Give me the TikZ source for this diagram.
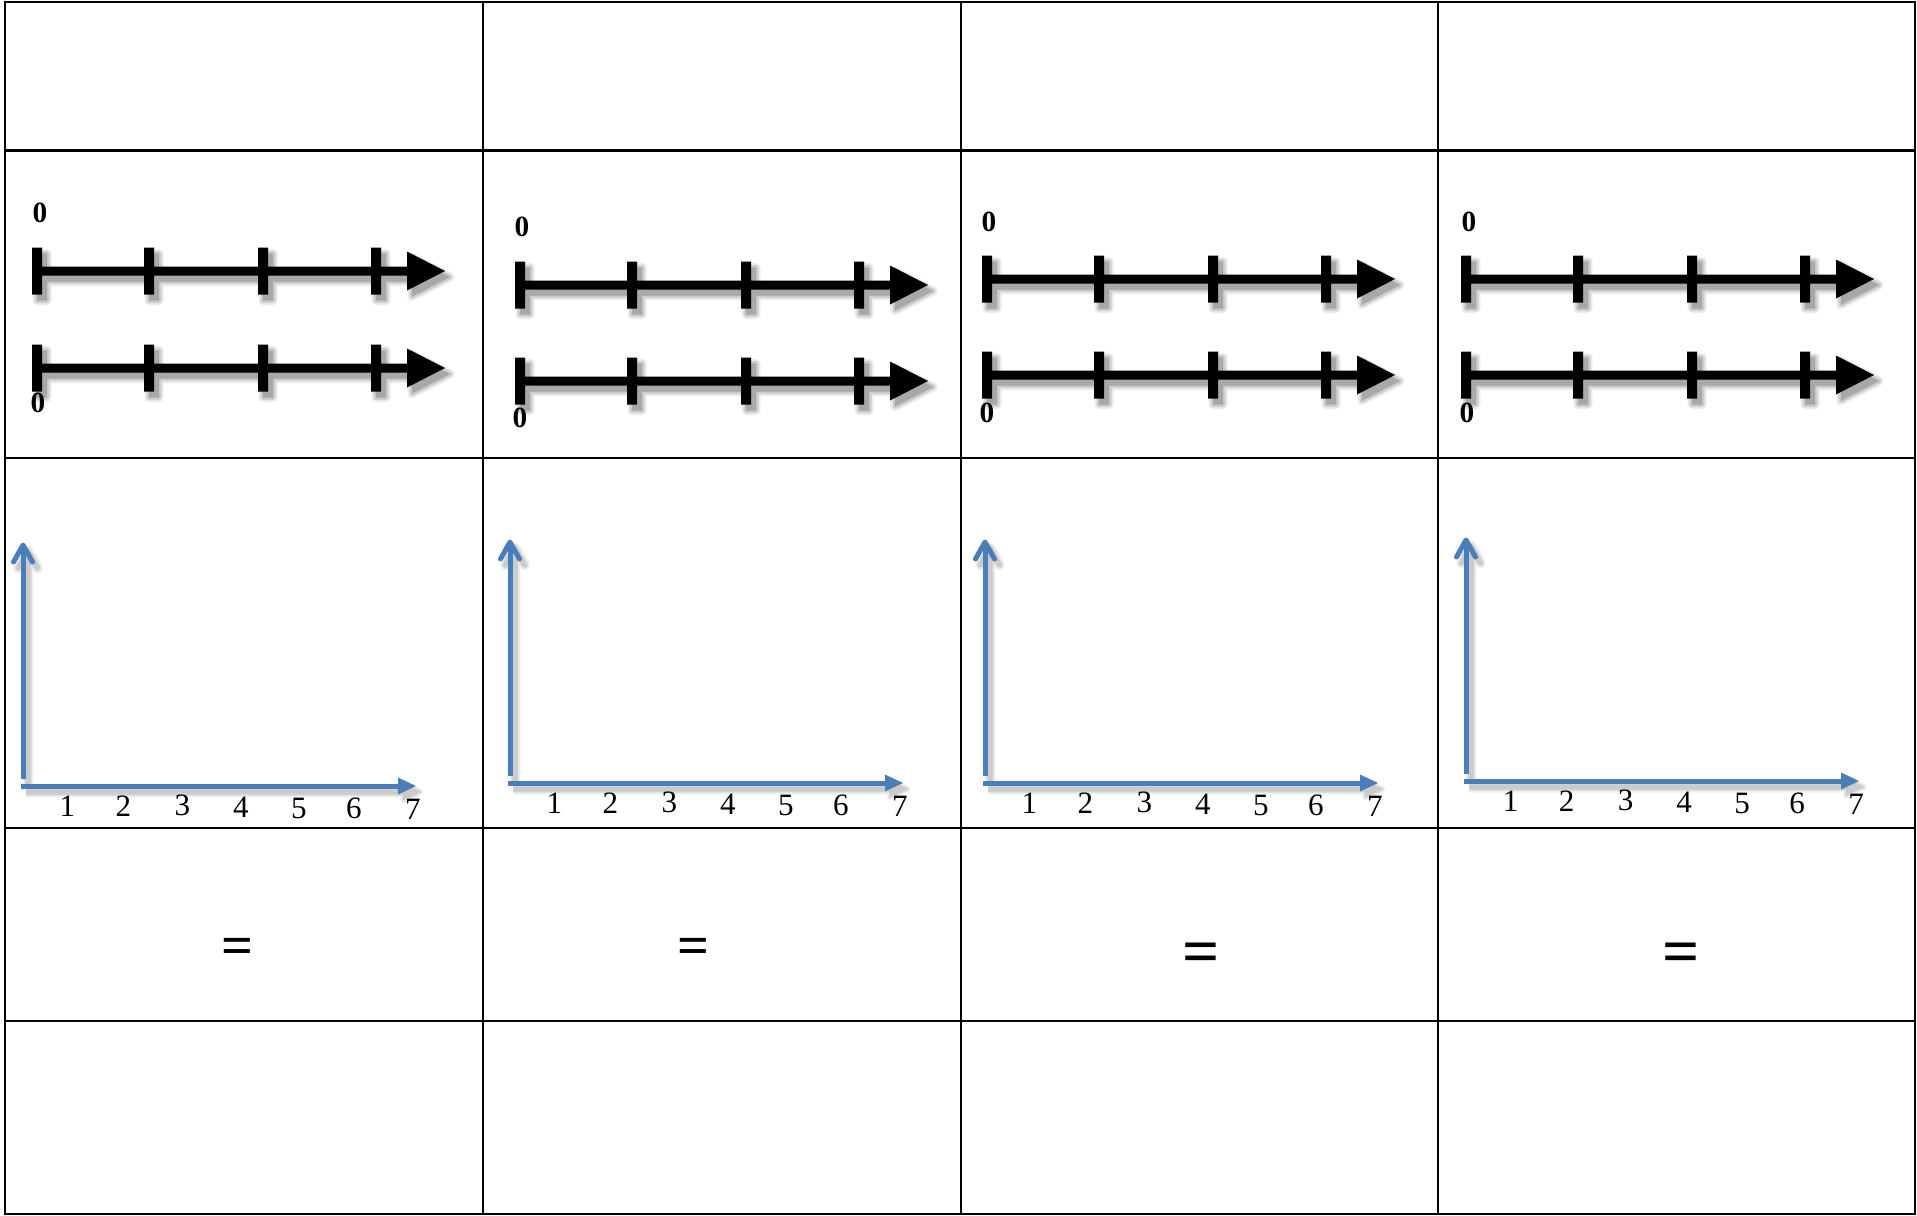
\documentclass[tikz,border=0pt]{standalone}
\usepackage{fontspec}
\setmainfont{Liberation Serif}
\definecolor{axisblue}{RGB}{74,126,187}

% one unit = one pixel of a 1917 x 1215 sheet, y pointing down
\tikzset{
  gridline/.style={line width=1.9pt, black},
  zerolabel/.style={inner sep=0pt, font=\fontsize{22}{24}\selectfont\bfseries},
  ticklabel/.style={inner sep=0pt, font=\fontsize{23.3}{26}\selectfont},
  eqsmall/.style={inner sep=0pt, font=\fontsize{42}{46}\selectfont\bfseries},
  eqlarge/.style={inner sep=0pt, font=\fontsize{49}{53}\selectfont\bfseries},
}

% body of a ticked number line (zero tick at the origin)
\newcommand{\tlbars}{(-5,-4.5) rectangle (371,4.5)
  (-5,-23.5) rectangle (5,23.5) (107,-23.5) rectangle (117,23.5)
  (221,-23.5) rectangle (231,23.5) (334,-23.5) rectangle (344,23.5)}
\newcommand{\tlhead}{(370,-19.5) -- (408,0) -- (370,19.5) -- cycle}

% #1 = x of zero tick, #2 = y of the line
\newcommand{\tickedline}[2]{%
  \begin{scope}[shift={(#1,#2)}]
    \foreach \w/\o in {9/0.08,5/0.12,0.1/0.18}{
      \begin{scope}[transparency group, opacity=\o, shift={(5,6)}]
        \filldraw[black, line width=\w*0.75pt, line join=round] \tlbars;
        \filldraw[black, line width=\w*0.75pt, line join=round] \tlhead;
      \end{scope}
    }
    \fill[black] \tlbars;
    \fill[black] \tlhead;
  \end{scope}}

% axes path pieces
\newcommand{\axvert}{(0,-7) -- (0,-241)}
\newcommand{\axtip}{(-9.5,-224) -- (0,-241) -- (9.5,-224)}
\newcommand{\axhorz}{(-2,0) -- (376,0)}
\newcommand{\axhead}{(375,-8.5) -- (393,0) -- (375,8.5) -- cycle}

% #1 = x of vertical axis, #2 = y of horizontal axis, #3 = column id
\newcommand{\axespair}[3]{%
  \begin{scope}[shift={(#1,#2)}]
    \foreach \w/\o in {6/0.05,3/0.07,0.1/0.09}{
      \begin{scope}[transparency group, opacity=\o, shift={(5,6)}]
        \draw[black, line width=3.75pt+\w*0.75pt] \axvert;
        \draw[black, line width=3.75pt+\w*0.75pt, line cap=round, line join=round] \axtip;
        \draw[black, line width=3.75pt+\w*0.75pt] \axhorz;
        \filldraw[black, line width=\w*0.75pt, line join=round] \axhead;
      \end{scope}
    }
    \draw[axisblue, line width=3.75pt] \axvert;
    \draw[axisblue, line width=3.75pt, line cap=round, line join=round] \axtip;
    \draw[axisblue, line width=3.75pt] \axhorz;
    \fill[axisblue] \axhead;
    \foreach \d/\dx/\dy in {1/44.5/20.5, 2/100.5/20, 3/159.5/19.5, 4/218/21,
                            5/276/22, 6/331/22.5, 7/390/23}{
      \node[ticklabel] (lab-#3-\d) at (\dx,\dy) {\d};
    }
  \end{scope}}

\begin{document}
\begin{tikzpicture}[x=0.75pt, y=-0.75pt]
  \useasboundingbox (0,0) rectangle (1917,1215);
  \fill[white] (0,0) rectangle (1917,1215);

  % table grid
  \draw[gridline] (5,2) rectangle (1915,1214);
  \foreach \gx in {483,961,1438}{
    \draw[gridline] (\gx,2) -- (\gx,1214);
  }
  \foreach \gy in {150.5,458,828,1021}{
    \draw[gridline] (5,\gy) -- (1915,\gy);
  }

  % pairs of number lines
  \tickedline{37}{271}    \tickedline{37}{368}
  \tickedline{520}{285}   \tickedline{520}{381}
  \tickedline{987}{279}   \tickedline{987}{375}
  \tickedline{1466}{279}  \tickedline{1466}{375}

  \node[zerolabel] (zero-1-top) at (40,213) {0};
  \node[zerolabel] (zero-1-bot) at (38,403) {0};
  \node[zerolabel] (zero-2-top) at (522,227) {0};
  \node[zerolabel] (zero-2-bot) at (520,418) {0};
  \node[zerolabel] (zero-3-top) at (989,222) {0};
  \node[zerolabel] (zero-3-bot) at (987,413) {0};
  \node[zerolabel] (zero-4-top) at (1469,222) {0};
  \node[zerolabel] (zero-4-bot) at (1467,413) {0};

  % blue axes with scales
  \axespair{23}{786}{1}
  \axespair{510}{783}{2}
  \axespair{985}{783}{3}
  \axespair{1466}{781}{4}

  % equals signs
  \node[eqsmall] (eq-1) at (237.6,951) {=};
  \node[eqsmall] (eq-2) at (693.8,951) {=};
  \node[eqlarge] (eq-3) at (1201,958) {=};
  \node[eqlarge] (eq-4) at (1681,958) {=};
\end{tikzpicture}
\end{document}
